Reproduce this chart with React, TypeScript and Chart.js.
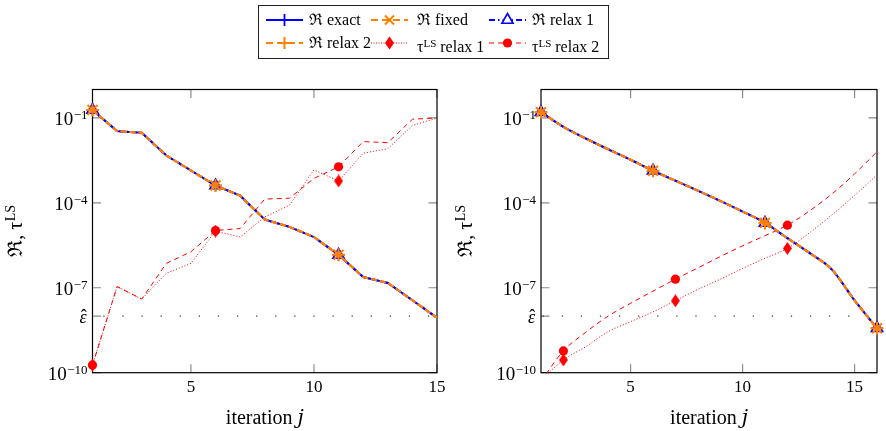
import React, { useEffect, useRef } from 'react';
import { Chart, registerables } from 'chart.js';

Chart.register(...registerables);

const FONT = '"Liberation Serif", "DejaVu Serif", serif';
const BLUE = '#0000ff';
const ORANGE = '#ff8000';
const RED = '#ff0000';

// ---------- data ----------
const leftIterations = [1, 2, 3, 4, 5, 6, 7, 8, 9, 10, 11, 12, 13, 14, 15];
const leftResidual = [1.9e-1, 3.39e-2, 2.95e-2, 4.68e-3, 1.38e-3, 4.07e-4, 1.78e-4, 2.57e-5, 1.41e-5, 6.17e-6, 1.45e-6, 2.4e-7, 1.48e-7, 3.63e-8, 8.7e-9];
const leftTauRelax1 = [1.86e-10, 1.1e-7, 3.98e-8, 3.24e-7, 7.24e-7, 1.0e-5, 6.17e-6, 3.16e-5, 8.13e-5, 1.45e-3, 5.89e-4, 5.62e-3, 8.13e-3, 5.37e-2, 9.77e-2];
const leftTauRelax2 = [1.86e-10, 1.1e-7, 3.98e-8, 7.24e-7, 1.86e-6, 1.05e-5, 1.23e-5, 1.35e-4, 1.45e-4, 7.24e-4, 1.86e-3, 1.45e-2, 1.32e-2, 8.9e-2, 1.0e-1];

const rightIterations = [1, 2, 3, 4, 5, 6, 7, 8, 9, 10, 11, 12, 13, 14, 15, 16];
const rightResidual = [1.58e-1, 4.79e-2, 1.86e-2, 7.76e-3, 3.31e-3, 1.35e-3, 6.03e-4, 2.69e-4, 1.17e-4, 4.9e-5, 1.95e-5, 5.62e-6, 1.66e-6, 4.27e-7, 3.55e-8, 3.72e-9];
const rightTauRelax1 = [5.6e-11, 2.82e-10, 8.32e-10, 2.82e-9, 6.31e-9, 1.41e-8, 3.47e-8, 8.71e-8, 2.0e-7, 4.79e-7, 1.1e-6, 2.45e-6, 8.91e-6, 3.8e-5, 1.82e-4, 9.55e-4];
const rightTauRelax2 = [5.0e-11, 5.89e-10, 2.69e-9, 1.0e-8, 2.82e-8, 7.59e-8, 2.0e-7, 5.01e-7, 1.26e-6, 3.02e-6, 6.92e-6, 1.62e-5, 5.25e-5, 2.09e-4, 1.05e-3, 6.31e-3];

const epsHat = 1e-8;
const yTickValues = [1e-10, 1e-8, 1e-7, 1e-4, 1e-1];
const yTickBases = ['10', 'ε', '10', '10', '10'];
const yTickExponents = ['−10', '', '−7', '−4', '−1'];
const xTickValues = [5, 10, 15];
const xTitle = 'iteration 𝑗';
const yTitleMain = 'ℜ, τ';
const yTitleSup = 'LS';

const legendItems = [
  { kind: 'exact', pre: 'ℜ exact', sup: '', post: '' },
  { kind: 'fixed', pre: 'ℜ fixed', sup: '', post: '' },
  { kind: 'relax1', pre: 'ℜ relax 1', sup: '', post: '' },
  { kind: 'relax2', pre: 'ℜ relax 2', sup: '', post: '' },
  { kind: 'tau1', pre: 'τ', sup: 'LS', post: ' relax 1' },
  { kind: 'tau2', pre: 'τ', sup: 'LS', post: ' relax 2' },
];

// ---------- helpers ----------
const pts = (xs: number[], ys: number[]) => xs.map((x, i) => ({ x, y: ys[i] }));
const every5 = (phase: number, r: number) => (ctx: any) => (ctx.dataIndex % 5 === phase ? r : 0);

function makeDiamond(w: number, h: number, color: string) {
  const c = document.createElement('canvas');
  c.width = w;
  c.height = h;
  const g = c.getContext('2d')!;
  g.fillStyle = color;
  g.beginPath();
  g.moveTo(w / 2, 0);
  g.lineTo(w, h / 2);
  g.lineTo(w / 2, h);
  g.lineTo(0, h / 2);
  g.closePath();
  g.fill();
  return c;
}

const axisFrame = {
  id: 'axisFrame',
  beforeDatasetsDraw(chart: any) {
    const { ctx, chartArea, scales } = chart;
    const { left, right, top, bottom } = chartArea;
    const L = 8.5;
    ctx.save();
    ctx.strokeStyle = '#8c8c8c';
    ctx.lineWidth = 1.2;
    ctx.beginPath();
    for (const t of scales.x.ticks) {
      const px = scales.x.getPixelForValue(t.value);
      ctx.moveTo(px, bottom);
      ctx.lineTo(px, bottom - L);
      ctx.moveTo(px, top);
      ctx.lineTo(px, top + L);
    }
    for (const t of scales.y.ticks) {
      const py = scales.y.getPixelForValue(t.value);
      ctx.moveTo(left, py);
      ctx.lineTo(left + L, py);
      if (t.value !== epsHat) {
        ctx.moveTo(right, py);
        ctx.lineTo(right - L, py);
      }
    }
    ctx.stroke();
    ctx.strokeStyle = '#000';
    ctx.lineWidth = 1.2;
    ctx.strokeRect(left, top, right - left, bottom - top);
    ctx.restore();
  },
};

// y tick labels with real superscripts, and the y-axis title
const yAxisText = {
  id: 'yAxisText',
  afterDraw(chart: any, _args: any, opts: any) {
    const { ctx, chartArea } = chart;
    const y = chart.scales.y;
    ctx.save();
    ctx.fillStyle = '#000';
    ctx.textBaseline = 'alphabetic';
    ctx.textAlign = 'left';
    const right = chartArea.left - 5;
    yTickValues.forEach((v, i) => {
      const py = y.getPixelForValue(v);
      const base = yTickBases[i];
      const exp = yTickExponents[i];
      if (exp) {
        ctx.font = `19px ${FONT}`;
        const wb = ctx.measureText(base).width;
        ctx.font = `13px ${FONT}`;
        const we = ctx.measureText(exp).width;
        const x0 = right - wb - we - 0.5;
        ctx.font = `19px ${FONT}`;
        ctx.fillText(base, x0, py + 7.3);
        ctx.font = `13px ${FONT}`;
        ctx.fillText(exp, x0 + wb + 0.5, py + 1.2);
      } else {
        ctx.font = `italic 18px ${FONT}`;
        const w = ctx.measureText(base).width;
        const x0 = right - w - 1;
        ctx.fillText(base, x0, py + 7);
        ctx.font = `18px ${FONT}`;
        ctx.textAlign = 'center';
        ctx.fillText('ˆ', x0 + w / 2 + 0.8, py + 6);
        ctx.textAlign = 'left';
      }
    });
    // title
    const cy = (chartArea.top + chartArea.bottom) / 2;
    ctx.translate(opts.titleX, cy);
    ctx.rotate(-Math.PI / 2);
    ctx.font = `20px ${FONT}`;
    const wm = ctx.measureText(yTitleMain).width;
    ctx.font = `14px ${FONT}`;
    const ws = ctx.measureText(yTitleSup).width;
    const x0 = -(wm + ws) / 2;
    ctx.font = `20px ${FONT}`;
    ctx.fillText(yTitleMain, x0, 0);
    ctx.font = `14px ${FONT}`;
    ctx.fillText(yTitleSup, x0 + wm + 0.5, -7);
    ctx.restore();
  },
};

type PanelSpec = {
  xs: number[];
  residual: number[];
  tau1: number[];
  tau2: number[];
  tauPhase: number;
  xMax: number;
  smooth: boolean;
  tauClip: any;
  padTop: number;
  padRight: number;
  yAxisWidth: number;
  xAxisHeight: number;
  epsDashOffset: number;
  titleX: number;
};

function buildConfig(p: PanelSpec): any {
  const diamond = makeDiamond(9, 13, RED);
  const interp = p.smooth ? { cubicInterpolationMode: 'monotone' } : { tension: 0 };
  return {
    type: 'line',
    data: {
      datasets: [
        {
          label: 'ℜ relax 2',
          data: pts(p.xs, p.residual),
          borderColor: ORANGE,
          borderWidth: 2,
          borderDash: [6, 3],
          pointStyle: 'cross',
          pointRadius: every5(0, 6.5),
          pointBorderColor: ORANGE,
          pointBorderWidth: 2,
          clip: false,
          order: 1,
          ...interp,
        },
        {
          label: 'ℜ fixed',
          data: pts(p.xs, p.residual),
          borderColor: ORANGE,
          borderWidth: 2,
          borderDash: [6, 3],
          pointStyle: 'crossRot',
          pointRadius: every5(0, 7),
          pointBorderColor: ORANGE,
          pointBorderWidth: 2,
          clip: false,
          order: 2,
          ...interp,
        },
        {
          label: 'ℜ relax 1',
          data: pts(p.xs, p.residual),
          borderColor: BLUE,
          borderWidth: 2,
          borderDash: [6, 2, 1.5, 2],
          pointStyle: 'triangle',
          pointRadius: every5(0, 6.5),
          pointBorderColor: BLUE,
          pointBackgroundColor: 'rgba(0,0,0,0)',
          pointBorderWidth: 1.6,
          clip: false,
          order: 3,
          ...interp,
        },
        {
          label: 'ℜ exact',
          data: pts(p.xs, p.residual),
          borderColor: BLUE,
          borderWidth: 2,
          pointStyle: 'cross',
          pointRadius: every5(0, 6),
          pointBorderColor: BLUE,
          pointBorderWidth: 1.5,
          clip: false,
          order: 4,
          ...interp,
        },
        {
          label: 'τLS relax 1',
          data: pts(p.xs, p.tau1),
          borderColor: RED,
          borderWidth: 1,
          borderDash: [1, 2],
          pointStyle: diamond,
          pointRadius: every5(p.tauPhase, 5),
          clip: p.tauClip,
          order: 5,
          ...interp,
        },
        {
          label: 'τLS relax 2',
          data: pts(p.xs, p.tau2),
          borderColor: RED,
          borderWidth: 1,
          borderDash: [5, 4],
          pointStyle: 'circle',
          pointRadius: every5(p.tauPhase, 4.6),
          pointBackgroundColor: RED,
          pointBorderColor: RED,
          pointBorderWidth: 0,
          clip: p.tauClip,
          order: 6,
          ...interp,
        },
        {
          label: 'ε̂',
          data: pts([1, p.xMax], [epsHat, epsHat]),
          borderColor: '#333',
          borderWidth: 1.2,
          borderDash: [1.2, 17.9],
          borderDashOffset: p.epsDashOffset,
          pointRadius: 0,
          order: 7,
        },
      ],
    },
    options: {
      animation: false,
      responsive: false,
      devicePixelRatio: 1,
      events: [],
      layout: { padding: { top: p.padTop, right: p.padRight, bottom: 0, left: 0 } },
      plugins: {
        legend: { display: false },
        tooltip: { enabled: false },
        title: { display: false },
        yAxisText: { titleX: p.titleX },
      },
      scales: {
        x: {
          type: 'linear',
          min: 1,
          max: p.xMax,
          afterBuildTicks: (s: any) => {
            s.ticks = xTickValues.map((v) => ({ value: v }));
          },
          afterFit: (s: any) => {
            s.height = p.xAxisHeight;
          },
          grid: { display: false, drawTicks: false },
          border: { display: false },
          ticks: {
            font: { family: FONT, size: 17 },
            color: '#000',
            padding: 4.5,
            autoSkip: false,
            maxRotation: 0,
            callback: (v: any) => String(v),
          },
          title: {
            display: true,
            text: xTitle,
            font: { family: FONT, size: 20 },
            color: '#000',
            padding: { top: 0, bottom: 0.5 },
          },
        },
        y: {
          type: 'logarithmic',
          min: 1e-10,
          max: 1,
          afterBuildTicks: (s: any) => {
            s.ticks = yTickValues.map((v) => ({ value: v }));
          },
          afterFit: (s: any) => {
            s.width = p.yAxisWidth;
          },
          grid: { display: false, drawTicks: false },
          border: { display: false },
          ticks: { display: false },
          title: { display: false },
        },
      },
    },
    plugins: [axisFrame, yAxisText],
  };
}

const leftPanel: PanelSpec = {
  xs: leftIterations,
  residual: leftResidual,
  tau1: leftTauRelax1,
  tau2: leftTauRelax2,
  tauPhase: 0,
  xMax: 15,
  smooth: false,
  tauClip: false,
  padTop: 89.5,
  padRight: 13,
  yAxisWidth: 92.5,
  xAxisHeight: 58.3,
  epsDashOffset: 8.3,
  titleX: 22,
};

const rightPanel: PanelSpec = {
  xs: rightIterations,
  residual: rightResidual,
  tau1: rightTauRelax1,
  tau2: rightTauRelax2,
  tauPhase: 1,
  xMax: 16,
  smooth: true,
  tauClip: { left: 20, right: 20, top: 20, bottom: 0 },
  padTop: 89.5,
  padRight: 0.7,
  yAxisWidth: 91,
  xAxisHeight: 58.3,
  epsDashOffset: 17.5,
  titleX: 21.5,
};

function PanelChart({ spec, left, width }: { spec: PanelSpec; left: number; width: number }) {
  const ref = useRef<HTMLCanvasElement>(null);
  useEffect(() => {
    const chart = new Chart(ref.current as HTMLCanvasElement, buildConfig(spec));
    return () => chart.destroy();
  }, [spec]);
  return (
    <canvas
      ref={ref}
      width={width}
      height={431}
      style={{ position: 'absolute', left, top: 0, width, height: 431, display: 'block' }}
    />
  );
}

function Sample({ kind }: { kind: string }) {
  const w = 37;
  const h = 16;
  const cy = 8;
  const cx = 18.5;
  let line: any = null;
  let marker: any = null;
  if (kind === 'exact') {
    line = <line x1={0} y1={cy} x2={w} y2={cy} stroke={BLUE} strokeWidth={2} />;
    marker = <path d={`M${cx - 6} ${cy}H${cx + 6}M${cx} ${cy - 6}V${cy + 6}`} stroke={BLUE} strokeWidth={1.8} fill="none" />;
  } else if (kind === 'fixed') {
    line = <line x1={0} y1={cy} x2={w} y2={cy} stroke={ORANGE} strokeWidth={2} strokeDasharray="7 4" />;
    marker = <path d={`M${cx - 4.5} ${cy - 4.5}L${cx + 4.5} ${cy + 4.5}M${cx - 4.5} ${cy + 4.5}L${cx + 4.5} ${cy - 4.5}`} stroke={ORANGE} strokeWidth={2} fill="none" />;
  } else if (kind === 'relax1') {
    line = <line x1={0} y1={cy} x2={w} y2={cy} stroke={BLUE} strokeWidth={2} strokeDasharray="6 3 1.5 3" />;
    marker = <polygon points={`${cx},${cy - 6.5} ${cx + 5.6},${cy + 3.3} ${cx - 5.6},${cy + 3.3}`} stroke={BLUE} strokeWidth={1.6} fill="#fff" />;
  } else if (kind === 'relax2') {
    line = <line x1={0} y1={cy} x2={w} y2={cy} stroke={ORANGE} strokeWidth={2} strokeDasharray="7 4" />;
    marker = <path d={`M${cx - 6} ${cy}H${cx + 6}M${cx} ${cy - 6}V${cy + 6}`} stroke={ORANGE} strokeWidth={2} fill="none" />;
  } else if (kind === 'tau1') {
    line = <line x1={0} y1={cy} x2={w} y2={cy} stroke={RED} strokeWidth={1} strokeDasharray="1 1.5" />;
    marker = <polygon points={`${cx},${cy - 6.5} ${cx + 4.5},${cy} ${cx},${cy + 6.5} ${cx - 4.5},${cy}`} fill={RED} />;
  } else {
    line = <line x1={0} y1={cy} x2={w} y2={cy} stroke={RED} strokeWidth={1} strokeDasharray="5 4" />;
    marker = <circle cx={cx} cy={cy} r={4.6} fill={RED} />;
  }
  return (
    <svg width={w} height={h} style={{ display: 'block' }}>
      {line}
      {marker}
    </svg>
  );
}

const legendCols = [
  { sample: 266, text: 309 },
  { sample: 371, text: 417 },
  { sample: 489, text: 532 },
];
const legendRows = [20, 43];

function Legend() {
  return (
    <div>
      <div
        style={{
          position: 'absolute',
          left: 258,
          top: 5,
          width: 351,
          height: 54,
          border: '1px solid #222',
          boxSizing: 'border-box',
        }}
      />
      {legendItems.map((it, i) => {
        const col = legendCols[i % 3];
        const row = legendRows[Math.floor(i / 3)];
        return (
          <React.Fragment key={it.kind}>
            <div style={{ position: 'absolute', left: col.sample, top: row - 8 }}>
              <Sample kind={it.kind} />
            </div>
            <div
              style={{
                position: 'absolute',
                left: col.text,
                top: row - 10,
                height: 20,
                lineHeight: '20px',
                fontFamily: FONT,
                fontSize: 16,
                whiteSpace: 'nowrap',
                color: '#000',
              }}
            >
              {it.pre}
              {it.sup ? <span style={{ fontSize: 11, verticalAlign: 5 }}>{it.sup}</span> : null}
              {it.post}
            </div>
          </React.Fragment>
        );
      })}
    </div>
  );
}

export default function App() {
  return (
    <div
      style={{
        position: 'absolute',
        left: 0,
        top: 0,
        width: 886,
        height: 431,
        background: '#fff',
        overflow: 'hidden',
      }}
    >
      <PanelChart spec={leftPanel} left={0} width={450} />
      <PanelChart spec={rightPanel} left={450} width={436} />
      <Legend />
    </div>
  );
}
